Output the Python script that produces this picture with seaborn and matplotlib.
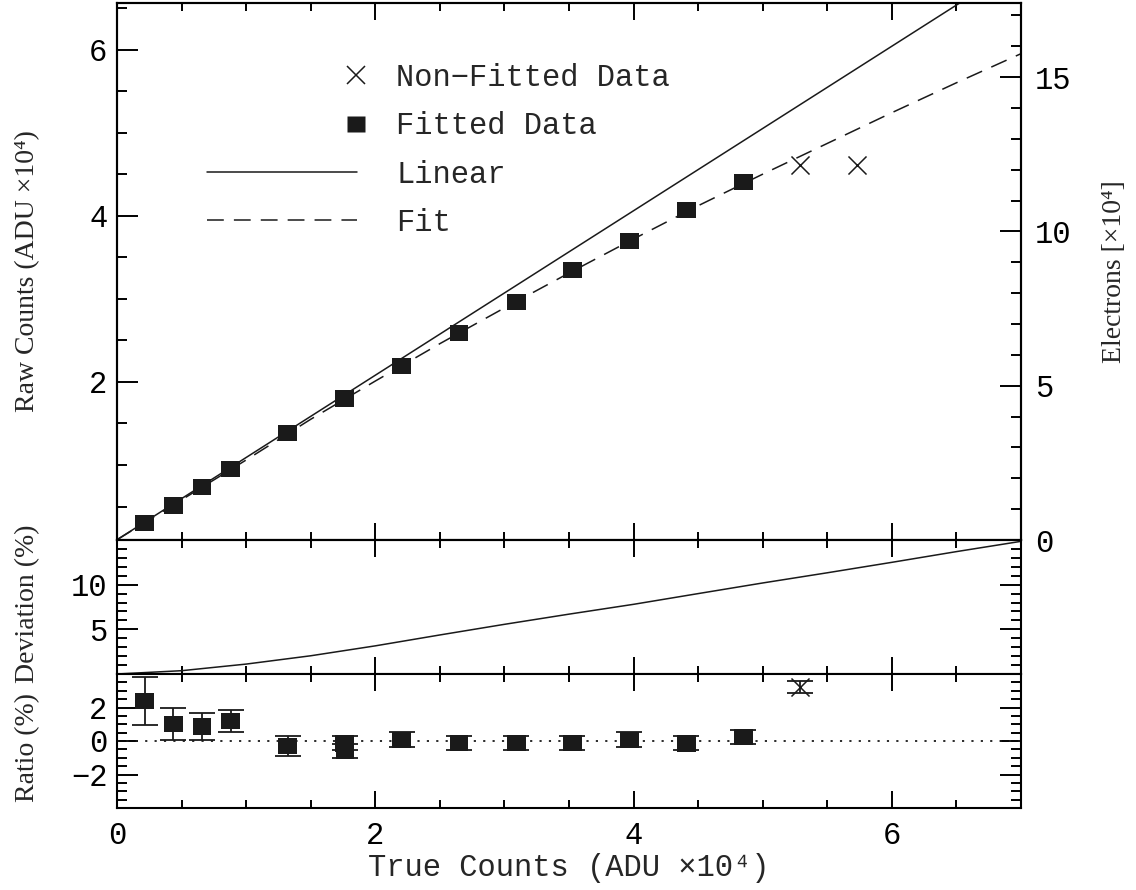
import numpy as np
import matplotlib
matplotlib.use("Agg")
import matplotlib.pyplot as plt
from matplotlib.lines import Line2D
from matplotlib.legend_handler import HandlerLine2D
from matplotlib.ticker import MultipleLocator, FixedLocator
import seaborn as sns

# ---------------- data ----------------
fitted_true = [0.214, 0.436, 0.659, 0.879, 1.322, 1.762, 1.766, 2.204, 2.649, 3.091, 3.527, 3.967, 4.407, 4.850]
fitted_raw = [0.301, 0.514, 0.735, 0.948, 1.386, 1.799, 1.799, 2.189, 2.590, 2.964, 3.345, 3.699, 4.068, 4.402]
fitted_ratio = [2.40, 1.01, 0.87, 1.21, -0.30, -0.14, -0.60, 0.08, -0.12, -0.12, -0.10, 0.08, -0.14, 0.24]
fitted_err = [1.42, 0.97, 0.79, 0.67, 0.57, 0.42, 0.42, 0.45, 0.43, 0.42, 0.42, 0.45, 0.42, 0.40]

nonfit_true = [5.292, 5.731]
nonfit_raw = [4.610, 4.610]
nonfit_ratio = [3.25, 6.9]
nonfit_err = [0.36, 0.36]

linear_true = [0.0, 7.0]
linear_raw = [0.10, 7.03]

fit_true = [0.0, 0.5, 1.0, 1.5, 2.0, 2.5, 3.0, 3.5, 4.0, 4.5, 5.0, 5.5, 6.0, 6.5, 7.0]
fit_raw = [0.10, 0.58, 1.06, 1.55, 2.01, 2.46, 2.89, 3.31, 3.72, 4.12, 4.50, 4.87, 5.24, 5.60, 5.95]

dev_true = [0.0, 0.5, 1.0, 1.5, 2.0, 2.5, 3.0, 3.5, 4.0, 4.5, 5.0, 5.5, 6.0, 6.5, 7.0]
dev_pct = [0.0, 0.37, 1.11, 2.04, 3.15, 4.37, 5.56, 6.70, 7.80, 9.00, 10.19, 11.33, 12.50, 13.70, 14.85]

x_ticks = [0, 2, 4, 6]
raw_ticks = [2, 4, 6]
el_ticks = [0, 5, 10, 15]
dev_ticks = [5, 10]
ratio_ticks = [-2, 0, 2]
ratio_ticklabels = ["\u22122", "0", "2"]

legend_labels = ["Non\u2212Fitted Data", "Fitted Data", "Linear", "Fit"]
xlabel = "True Counts (ADU \u00d710\u2074)"
ylabel_top = "Raw Counts (ADU \u00d710\u2074)"
ylabel_dev = "Deviation (%)"
ylabel_ratio = "Ratio (%)"
ylabel_right = "Electrons [\u00d710\u2074]"

# ---------------- style ----------------
sns.set_theme(style="ticks")
MONO = ["Liberation Mono", "DejaVu Sans"]
SERIF = ["Liberation Serif", "DejaVu Serif"]
plt.rcParams["font.family"] = MONO
plt.rcParams.update({
    "axes.linewidth": 1.5,
    "axes.edgecolor": "black",
    "xtick.color": "black",
    "ytick.color": "black",
    "font.size": 22,
})
TS = 22
LW = 1.1
MS = 13.5
DASH = [11, 6.6]

fig = plt.figure(figsize=(11.36, 8.9), dpi=100)
FW, FH = 1136.0, 890.0
L = 117 / FW
W = 904 / FW


def frame(top_px, bot_px):
    return [L, 1 - bot_px / FH, W, (bot_px - top_px) / FH]


ax_top = fig.add_axes(frame(3, 540))
ax_dev = fig.add_axes(frame(540, 674))
ax_rat = fig.add_axes(frame(674, 808))

rect = [(-1, -0.87), (1, -0.87), (1, 0.87), (-1, 0.87), (-1, -0.87)]

# ---- top panel ----
sns.lineplot(x=linear_true, y=linear_raw, ax=ax_top, color="k", lw=LW,
             estimator=None, sort=False)
sns.lineplot(x=fit_true, y=fit_raw, ax=ax_top, color="k", lw=LW,
             estimator=None, sort=False)
ax_top.lines[-1].set_dashes(DASH)
sns.scatterplot(x=fitted_true, y=fitted_raw, ax=ax_top, marker=rect, s=MS ** 2,
                color="k", edgecolor="none", legend=False, zorder=3)
sns.scatterplot(x=nonfit_true, y=nonfit_raw, ax=ax_top, marker="x", s=13 ** 2,
                color="k", linewidth=1.1, legend=False, zorder=3)
ax_top.set_xlim(0, 7)
ax_top.set_ylim(0.097, 6.56)

ax_el = ax_top.twinx()
ax_el.set_ylim(0, 17.4)

# ---- deviation panel ----
sns.lineplot(x=dev_true, y=dev_pct, ax=ax_dev, color="k", lw=LW,
             estimator=None, sort=False)
ax_dev.set_xlim(0, 7)
ax_dev.set_ylim(0, 15)

# ---- ratio panel ----
ax_rat.axhline(0, color="k", lw=1.3, ls=(0, (1.2, 4)))
ax_rat.errorbar(fitted_true, fitted_ratio, yerr=fitted_err, fmt="none",
                ecolor="k", elinewidth=1.3, capsize=9.5, capthick=1.3, zorder=2)
ax_rat.errorbar(nonfit_true, nonfit_ratio, yerr=nonfit_err, fmt="none",
                ecolor="k", elinewidth=1.3, capsize=9.5, capthick=1.3, zorder=2)
sns.scatterplot(x=fitted_true, y=fitted_ratio, ax=ax_rat, marker=rect, s=MS ** 2,
                color="k", edgecolor="none", legend=False, zorder=3)
sns.scatterplot(x=nonfit_true, y=nonfit_ratio, ax=ax_rat, marker="x", s=13 ** 2,
                color="k", linewidth=1.1, legend=False, zorder=3)
ax_rat.set_xlim(0, 7)
ax_rat.set_ylim(-4, 4)

# ---- ticks ----
for ax in (ax_top, ax_dev, ax_rat):
    ax.xaxis.set_major_locator(FixedLocator(x_ticks))
    ax.xaxis.set_minor_locator(MultipleLocator(0.5))
    ax.tick_params(axis="both", which="both", direction="in", top=True,
                   right=True, width=1.4, labelsize=TS)
    ax.tick_params(axis="x", which="major", length=12, pad=9)
    ax.tick_params(axis="x", which="minor", length=6)
    ax.tick_params(axis="y", which="major", length=15, pad=7)
    ax.tick_params(axis="y", which="minor", length=7)
    for s in ax.spines.values():
        s.set_linewidth(1.5)
    ax.set_xlabel("")
    ax.set_ylabel("")

ax_top.tick_params(axis="x", labelbottom=False)
ax_dev.tick_params(axis="x", labelbottom=False)
ax_top.tick_params(axis="y", which="both", right=False)

ax_top.yaxis.set_major_locator(FixedLocator(raw_ticks))
ax_top.yaxis.set_minor_locator(MultipleLocator(0.5))

ax_el.yaxis.set_major_locator(FixedLocator(el_ticks))
ax_el.yaxis.set_minor_locator(MultipleLocator(1))
ax_el.tick_params(axis="y", which="both", direction="in", right=True, left=False,
                  width=1.4, labelsize=TS)
ax_el.tick_params(axis="y", which="major", length=15, pad=10)
ax_el.tick_params(axis="y", which="minor", length=7)
for s in ax_el.spines.values():
    s.set_linewidth(1.5)

ax_dev.yaxis.set_major_locator(FixedLocator(dev_ticks))
ax_dev.yaxis.set_minor_locator(MultipleLocator(1))

ax_rat.yaxis.set_major_locator(FixedLocator(ratio_ticks))
ax_rat.set_yticklabels(ratio_ticklabels)
ax_rat.yaxis.set_minor_locator(MultipleLocator(0.5))

for lab in ax_rat.get_yticklabels():
    lab.set_family(MONO)

# ---- labels ----
ax_rat.set_xlabel(xlabel, fontsize=TS, family=MONO, labelpad=1.5)
LBL = dict(fontsize=20, family=SERIF)
ax_top.set_ylabel(ylabel_top, **LBL)
ax_dev.set_ylabel(ylabel_dev, **LBL)
ax_rat.set_ylabel(ylabel_ratio, **LBL)
ax_el.set_ylabel(ylabel_right, rotation=90, **LBL)
lx = (40 - 117) / 904
ax_top.yaxis.set_label_coords(lx, 0.5)
ax_dev.yaxis.set_label_coords(lx, (674 - 604) / 134)
ax_rat.yaxis.set_label_coords(lx, (808 - 748) / 134)
ax_el.yaxis.set_label_coords((1102 - 117) / 904, 0.5)


# ---- legend ----
class RightMarker(HandlerLine2D):
    def get_numpoints(self, legend):
        return 2

    def get_xdata(self, legend, xdescent, ydescent, width, height, fontsize):
        xm = np.array([-xdescent + width - 0.02 * fontsize])
        return xm, xm


h1 = Line2D([], [], ls="none", marker="x", color="k", ms=13, mew=1.1)
h2 = Line2D([], [], ls="none", marker=rect, color="k", ms=MS, mec="none")
h3 = Line2D([], [], color="k", lw=LW)
h4 = Line2D([], [], color="k", lw=LW, dashes=DASH)
ax_top.legend([h1, h2, h3, h4], legend_labels,
              handler_map={h1: RightMarker(), h2: RightMarker()},
              loc="upper left", bbox_to_anchor=((207 - 117) / 904, (540 - 63) / 537),
              frameon=False, borderpad=0, borderaxespad=0,
              handlelength=4.9, handletextpad=1.3, labelspacing=0.6,
              prop={"family": MONO, "size": TS})

fig.savefig("out.png", dpi=100, facecolor="white")
